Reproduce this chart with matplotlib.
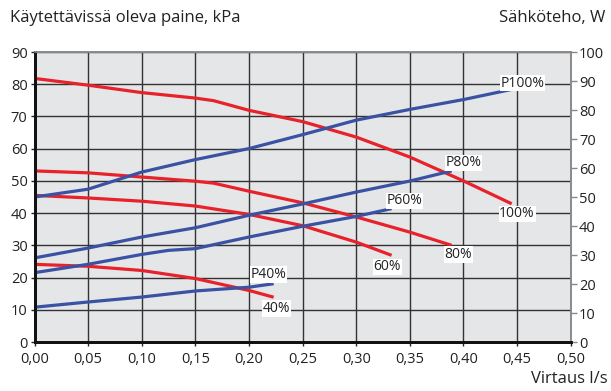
import matplotlib
matplotlib.use('Agg')
import matplotlib.pyplot as plt

plt.rcParams['font.family'] = ['Open Sans', 'DejaVu Sans']

# flow l/s and available pressure kPa (red curves)
x_100 = [0.00, 0.05, 0.10, 0.15, 0.167, 0.20, 0.25, 0.30, 0.35, 0.40, 0.445]
p_100 = [81.8, 79.7, 77.4, 75.7, 74.9, 71.9, 68.4, 63.6, 57.4, 50.0, 42.9]
x_80 = [0.00, 0.05, 0.10, 0.15, 0.167, 0.20, 0.25, 0.30, 0.35, 0.389]
p_80 = [53.1, 52.5, 51.2, 49.9, 49.3, 46.8, 43.2, 38.8, 34.1, 30.0]
x_60 = [0.00, 0.05, 0.10, 0.15, 0.20, 0.25, 0.30, 0.333]
p_60 = [45.5, 44.7, 43.7, 42.2, 39.6, 36.1, 31.0, 26.9]
x_40 = [0.00, 0.05, 0.10, 0.15, 0.20, 0.223]
p_40 = [24.1, 23.5, 22.2, 19.7, 16.0, 13.9]

# electrical power W (blue curves)
xw_100 = [0.00, 0.05, 0.10, 0.15, 0.20, 0.25, 0.30, 0.35, 0.40, 0.445]
w_100 = [50.0, 52.7, 58.6, 62.9, 66.7, 71.5, 76.5, 80.2, 83.6, 87.1]
xw_80 = [0.00, 0.05, 0.10, 0.15, 0.20, 0.25, 0.30, 0.35, 0.389]
w_80 = [29.0, 32.4, 36.2, 39.4, 43.7, 47.6, 51.7, 55.5, 59.0]
xw_60 = [0.00, 0.05, 0.10, 0.125, 0.15, 0.20, 0.25, 0.30, 0.333]
w_60 = [23.9, 26.8, 30.2, 31.6, 32.2, 36.2, 39.9, 43.3, 46.0]
xw_40 = [0.00, 0.05, 0.10, 0.15, 0.20, 0.223]
w_40 = [12.0, 13.8, 15.5, 17.6, 18.9, 20.1]

x_ticks = [0.00, 0.05, 0.10, 0.15, 0.20, 0.25, 0.30, 0.35, 0.40, 0.45, 0.50]
x_labels = ['0,00', '0,05', '0,10', '0,15', '0,20', '0,25', '0,30', '0,35', '0,40', '0,45', '0,50']

# curve labels: text, x, kPa
labels = [('P100%', 0.455, 80.3), ('P80%', 0.400, 55.6), ('P60%', 0.345, 43.8),
          ('P40%', 0.218, 21.0), ('100%', 0.450, 39.8), ('80%', 0.395, 27.2),
          ('60%', 0.329, 23.3), ('40%', 0.226, 10.4)]

red = '#e8222b'
blue = '#3a52a4'

fig = plt.figure(figsize=(6.11, 3.91), dpi=100)
ax = fig.add_axes([0.0565, 0.1253, 0.8775, 0.7417])
ax.set_facecolor('#e5e6e8')
ax.set_xlim(0, 0.5)
ax.set_ylim(0, 90)
ax.set_xticks(x_ticks)
ax.set_xticklabels(x_labels)
ax.set_yticks(range(0, 91, 10))
ax.grid(True, color='#333333', lw=1.0)
ax.set_axisbelow(True)
ax.tick_params(labelsize=10.5, colors='#222222', length=3, width=1, pad=2)
ax.tick_params(axis='x', pad=4)

for xs, ps in [(x_100, p_100), (x_80, p_80), (x_60, p_60), (x_40, p_40)]:
    ax.plot(xs, ps, color=red, lw=2.3, solid_capstyle='butt',
            solid_joinstyle='round', zorder=3)

ax2 = ax.twinx()
ax2.set_ylim(0, 100)
ax2.set_yticks(range(0, 101, 10))
ax2.tick_params(labelsize=10.5, colors='#222222', length=4, width=1, pad=2)
ax2.tick_params(axis='y', color='#888888')
for xs, ws in [(xw_100, w_100), (xw_80, w_80), (xw_60, w_60), (xw_40, w_40)]:
    ax2.plot(xs, ws, color=blue, lw=2.3, solid_capstyle='butt',
             solid_joinstyle='round', zorder=2)

for a in (ax, ax2):
    a.spines['left'].set_linewidth(2)
    a.spines['left'].set_color('#111111')
    a.spines['bottom'].set_linewidth(2)
    a.spines['bottom'].set_color('#111111')
    a.spines['top'].set_color('#8a8a8a')
    a.spines['top'].set_linewidth(1.2)
    a.spines['right'].set_color('#8a8a8a')
    a.spines['right'].set_linewidth(1.2)

for s, xv, yv in labels:
    ax2.text(xv, yv, s, transform=ax.transData, ha='center', va='center',
             fontsize=10, color='#222222', zorder=5,
             bbox=dict(facecolor='white', edgecolor='none', pad=0.5))

fig.text(0.016, 0.953, 'Käytettävissä oleva paine, kPa', ha='left', va='center',
         fontsize=12, color='#222222')
fig.text(0.99, 0.953, 'Sähköteho, W', ha='right', va='center',
         fontsize=12, color='#222222')
fig.text(0.995, 0.03, 'Virtaus l/s', ha='right', va='center',
         fontsize=12, color='#222222')

fig.savefig('out.png', dpi=100)
